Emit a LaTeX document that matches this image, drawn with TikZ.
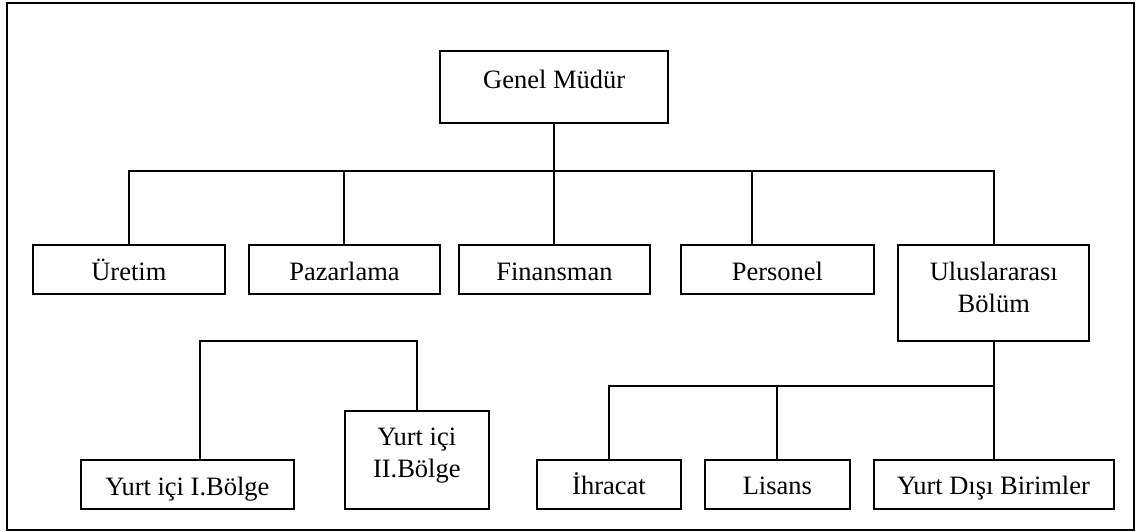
\documentclass[tikz,border=0pt]{standalone}
\usepackage{fontspec}
\setmainfont{Liberation Serif}
\begin{document}
\begin{tikzpicture}[x=1pt,y=-1pt,
  box/.style={draw, line width=2pt, inner sep=0pt, anchor=north west,
    font=\fontsize{26.5pt}{32pt}\selectfont},
  single/.style={box, text height=35.5pt, text depth=13.8pt},
  link/.style={line width=2pt}]
\useasboundingbox (0,0) rectangle (1138,532);
% outer frame
\draw[line width=2.2pt] (6.9,2.7) rectangle (1134,530);

% top management
\node[box, minimum width=227.7pt, text height=38pt, text depth=34.5pt] (gm) at (439.3,50) {Genel Müdür};

% departments
\node[single, minimum width=192.1pt] (ur) at (31.8,244) {Üretim};
\node[single, minimum width=191.7pt] (pz) at (247.6,244) {Pazarlama};
\node[single, minimum width=191.5pt] (fi) at (457.7,244) {Finansman};
\node[single, minimum width=192.4pt] (pe) at (680.2,244) {Personel};
\node[box, minimum width=191pt, text height=35pt, text depth=61pt] (ul) at (897.3,244)
  {\begin{tabular}[t]{@{}c@{}}Uluslararası\\Bölüm\end{tabular}};

% domestic regions
\node[box, minimum width=213.6pt, text height=35pt, text depth=13.7pt] (y1) at (79.6,459.3) {Yurt içi I.Bölge};
\node[box, minimum width=144.2pt, text height=34pt, text depth=64pt] (y2) at (343.7,410)
  {\begin{tabular}[t]{@{}c@{}}Yurt içi\\II.Bölge\end{tabular}};

% international units
\node[box, minimum width=144.4pt, text height=34.8pt, text depth=14pt] (ih) at (535.8,459) {İhracat};
\node[box, minimum width=144.5pt, text height=34.8pt, text depth=14pt] (li) at (704.1,459) {Lisans};
\node[box, minimum width=240pt, text height=34.8pt, text depth=14pt] (yd) at (872.5,459) {Yurt Dışı Birimler};

% junction points
\coordinate (hub) at (553.4,171);
\coordinate (pej) at (752.4,171);
\coordinate (dom) at (199.8,340.7);
\coordinate (intl) at (992.4,386);

% connectors: general manager to departments
\draw[link] (gm.south) -- (gm.south |- hub);
\draw[link] (ur.north) |- (ul.north |- hub) -- (ul.north);
\draw[link] (pz.north) -- (pz.north |- hub);
\draw[link] (fi.north) -- (fi.north |- hub);
\draw[link] (pej) -- (pej |- pe.north);

% domestic regions
\draw[link] (dom |- y1.north) -- (dom) -| (y2.north);

% international department to its units
\draw[link] (ul.south) -- (ul.south |- intl);
\draw[link] (ih.north) |- (yd.north |- intl) -- (yd.north);
\draw[link] (li.north) -- (li.north |- intl);
\end{tikzpicture}
\end{document}
